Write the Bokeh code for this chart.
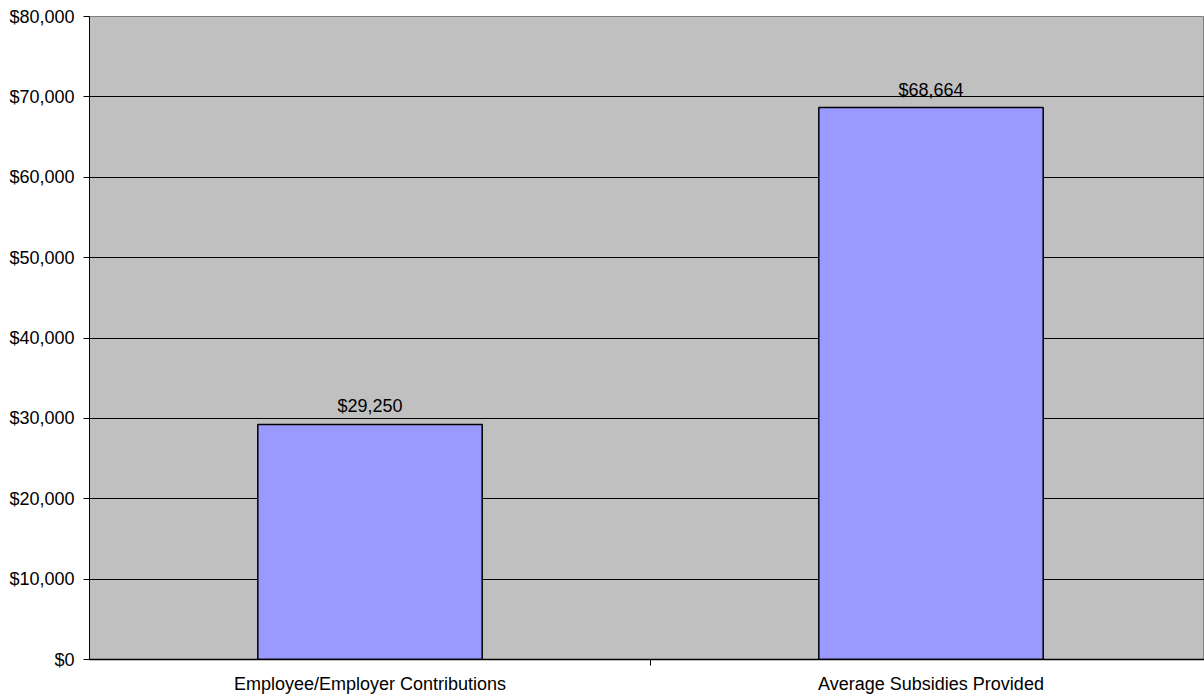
from bokeh.plotting import figure
from bokeh.models import Range1d, FixedTicker, NumeralTickFormatter, ColumnDataSource
from bokeh.core.properties import value
from bokeh.embed import file_html
from bokeh.resources import INLINE

categories = ["Employee/Employer Contributions", "Average Subsidies Provided"]
amounts = [29250, 68664]
y_ticks = [0, 10000, 20000, 30000, 40000, 50000, 60000, 70000, 80000]

FONT = "Liberation Sans"
FS = "18px"

n = len(categories)
xs = [i + 0.5 for i in range(n)]
labels = ["${:,}".format(v) for v in amounts]
src = ColumnDataSource(dict(x=xs, top=amounts, label=labels))

p = figure(width=1204, height=696, output_backend="svg", toolbar_location=None,
           x_range=Range1d(0, 1115 / 561), y_range=Range1d(y_ticks[0], y_ticks[-1]))
p.min_border_left = 89
p.min_border_right = 0
p.min_border_top = 16
p.min_border_bottom = 37
p.background_fill_color = "#C0C0C0"
p.border_fill_color = "white"
p.outline_line_color = "#808080"

p.vbar(x="x", top="top", bottom=0, width=0.4, source=src,
       fill_color="#9999FF", line_color="black", line_width=1.5)
p.text(x="x", y="top", text="label", source=src, text_align="center",
       text_baseline="alphabetic", y_offset=-18,
       text_font=value(FONT), text_font_size=FS, text_color="black")

# x axis
p.xaxis.ticker = FixedTicker(ticks=xs, minor_ticks=[i for i in range(1, n)])
p.xaxis.major_label_overrides = {x: c for x, c in zip(xs, categories)}
p.xaxis.major_tick_out = 0
p.xaxis.major_tick_in = 0
p.xaxis.minor_tick_out = 6
p.xaxis.minor_tick_in = 0
p.xaxis.minor_tick_line_color = "black"
p.xaxis.axis_line_color = "black"
p.xaxis.axis_line_width = 1.5
p.xaxis.major_label_standoff = 8
p.xaxis.major_label_text_font = FONT
p.xaxis.major_label_text_font_size = FS
p.xaxis.major_label_text_color = "black"

# y axis
p.yaxis.ticker = FixedTicker(ticks=y_ticks)
p.yaxis.formatter = NumeralTickFormatter(format="$0,0")
p.yaxis.major_tick_out = 6
p.yaxis.major_tick_in = 0
p.yaxis.minor_tick_line_color = None
p.yaxis.axis_line_color = "black"
p.yaxis.major_tick_line_color = "black"
p.yaxis.major_label_standoff = 9
p.yaxis.major_label_text_font = FONT
p.yaxis.major_label_text_font_size = FS
p.yaxis.major_label_text_color = "black"

p.xgrid.grid_line_color = None
p.ygrid.ticker = FixedTicker(ticks=y_ticks)
p.ygrid.grid_line_color = "black"
p.ygrid.grid_line_width = 1

open("out.html", "w").write(file_html(p, INLINE))
